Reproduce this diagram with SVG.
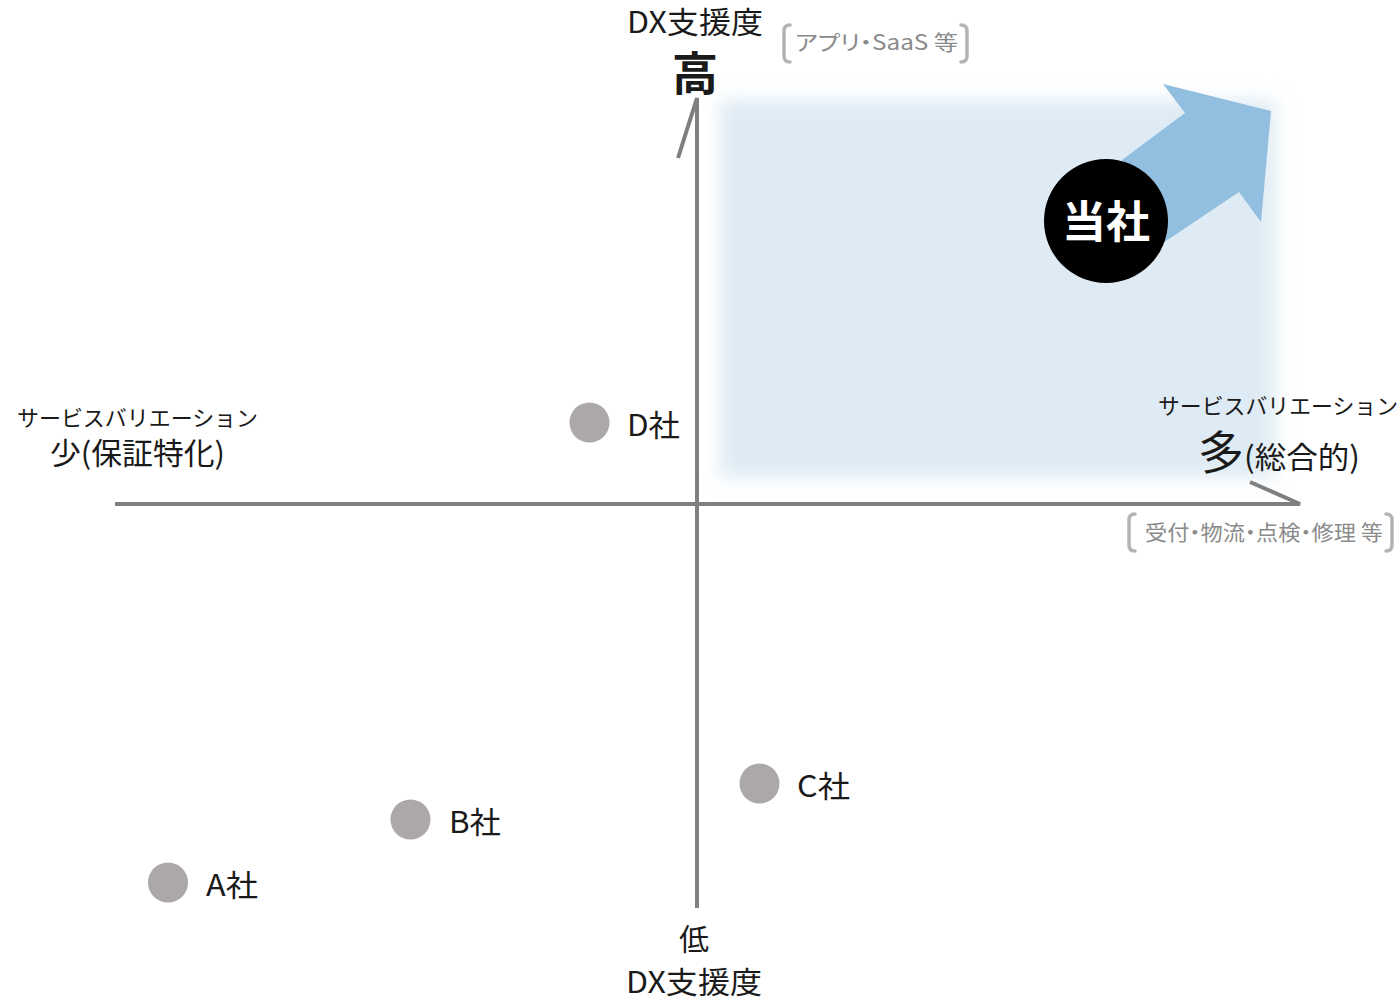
<svg xmlns="http://www.w3.org/2000/svg" width="1400" height="1000" viewBox="0 0 1400 1000">
<style>
text{font-family:"Noto Sans CJK JP","Noto Sans",sans-serif;fill:#1a1a1a}
.lbl{font-size:30px}
.sv{font-size:22px}
.gr{font-size:21px;fill:#8a8a8a;font-feature-settings:"palt"}
.axis{stroke:#7f7f7f;stroke-width:4;fill:none}
.brk{stroke:#b4b4b4;stroke-width:3.5;fill:none;stroke-linecap:round;stroke-linejoin:round}
.dot{fill:#aca8a8}
</style>
<defs>
<filter id="soft" x="-10%" y="-10%" width="120%" height="120%"><feGaussianBlur stdDeviation="9"/></filter>
</defs>
<rect x="720" y="100" width="555" height="378" fill="#dfebf4" filter="url(#soft)"/>
<g id="connectors">
<path class="axis" d="M697 908 V98 L678 158"/>
<path class="axis" d="M115 504 H1300 L1250 482"/>
</g>
<g id="top-label">
<text class="lbl" x="627" y="33" textLength="136" lengthAdjust="spacingAndGlyphs">DX支援度</text>
<text x="695" y="90" text-anchor="middle" font-size="46" font-weight="bold" fill="#000">高</text>
<path class="brk" d="M790 25 q-6 0 -6 6 v25 q0 6 6 6"/>
<text class="gr" x="795" y="50" textLength="163" lengthAdjust="spacingAndGlyphs">アプリ・SaaS 等</text>
<path class="brk" d="M961 25 q6 0 6 6 v25 q0 6 -6 6"/>
</g>
<g id="bottom-label">
<text class="lbl" x="694" y="950" text-anchor="middle">低</text>
<text class="lbl" x="626" y="993" textLength="136" lengthAdjust="spacingAndGlyphs">DX支援度</text>
</g>
<g id="left-label">
<text class="sv" x="17" y="426" textLength="241" lengthAdjust="spacingAndGlyphs">サービスバリエーション</text>
<text class="lbl" x="50" y="464" textLength="175" lengthAdjust="spacingAndGlyphs">少(保証特化)</text>
</g>
<g id="right-label">
<text class="sv" x="1158" y="414" textLength="240" lengthAdjust="spacingAndGlyphs">サービスバリエーション</text>
<text x="1198" y="469" font-size="46">多</text>
<text class="lbl" x="1244" y="468" textLength="116" lengthAdjust="spacingAndGlyphs">(総合的)</text>
<path class="brk" d="M1135 514 q-6 0 -6 6 v25 q0 6 6 6"/>
<text class="gr" x="1145" y="540" textLength="238" lengthAdjust="spacingAndGlyphs">受付・物流・点検・修理 等</text>
<path class="brk" d="M1386 514 q6 0 6 6 v25 q0 6 -6 6"/>
</g>
<g id="own">
<polygon points="1122,160 1185,113 1163,84 1271,111 1261,222 1239,192 1163,243" fill="#92bedf"/>
<circle cx="1106" cy="221" r="62" fill="#000"/>
<text x="1106" y="238" text-anchor="middle" font-size="44" font-weight="bold" style="fill:#fff">当社</text>
</g>
<g id="company-d">
<circle class="dot" cx="589.5" cy="422.5" r="20"/>
<text class="lbl" x="627" y="436" textLength="53" lengthAdjust="spacingAndGlyphs">D社</text>
</g>
<g id="company-c">
<circle class="dot" cx="759.5" cy="783.5" r="20"/>
<text class="lbl" x="797" y="797" textLength="53" lengthAdjust="spacingAndGlyphs">C社</text>
</g>
<g id="company-b">
<circle class="dot" cx="410.5" cy="819.5" r="20"/>
<text class="lbl" x="449" y="833" textLength="52" lengthAdjust="spacingAndGlyphs">B社</text>
</g>
<g id="company-a">
<circle class="dot" cx="168" cy="882.5" r="20"/>
<text class="lbl" x="206" y="896" textLength="52" lengthAdjust="spacingAndGlyphs">A社</text>
</g>
</svg>
